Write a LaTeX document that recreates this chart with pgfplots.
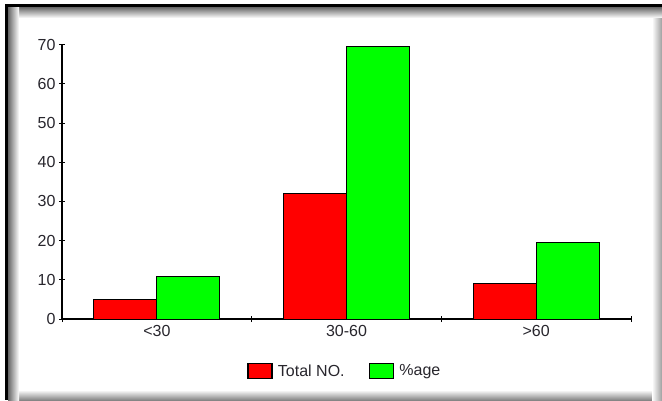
\documentclass[border=0pt]{standalone}
\usepackage{fontspec}
\setmainfont{Liberation Sans}
\usepackage{pgfplots}
\pgfplotsset{compat=1.18}

\definecolor{barred}{RGB}{255,0,0}
\definecolor{bargreen}{RGB}{0,255,0}
\definecolor{labelgray}{RGB}{40,38,45}

\begin{document}
\begin{tikzpicture}
\useasboundingbox (0pt,0pt) rectangle (662pt,400pt);
\fill[white] (0pt,0pt) rectangle (662pt,400pt);
% inner shadow of the panel
\shade[top color=white, bottom color=black!48] (8pt,0pt) rectangle (662pt,10pt);
\shade[left color=white, right color=black!38] (652pt,0pt) rectangle (662pt,393pt);
\shade[top color=black!60, bottom color=white] (8pt,382pt) rectangle (662pt,393pt);
\shade[left color=black!60, right color=white] (8pt,0pt) rectangle (19pt,393pt);
% panel border
\fill[black] (5pt,0pt) rectangle (8pt,396pt);
\fill[black] (5pt,393pt) rectangle (662pt,396pt);

\begin{axis}[
  at={(62pt,81pt)}, anchor=south west,
  scale only axis, width=569pt, height=274.3pt,
  xmin=0, xmax=3, ymin=0, ymax=70,
  axis lines=left,
  axis line style={-, line width=1.2pt, black},
  ybar=0pt, bar width=63pt,
  ytick={0,10,...,70},
  xtick={0,1,2,3}, xticklabels={},
  extra x ticks={0.5,1.5,2.5},
  extra x tick labels={<30,30-60,>60},
  extra x tick style={major tick length=0pt},
  xticklabel style={yshift=-3pt},
  tick align=center, major tick length=6pt,
  tick style={black, line width=1pt},
  tick label style={font=\fontsize{16}{19}\selectfont, text=labelgray},
  /pgf/number format/assume math mode=true,
  legend style={at={(0.497,-0.19)}, anchor=center, draw=none, fill=none,
    legend columns=2, font=\fontsize{16}{19}\selectfont, text=labelgray,
    /tikz/every even column/.append style={column sep=22pt}},
  legend image code/.code={\draw[#1,draw=black,line width=1.5pt] (0pt,-7.5pt) rectangle (24pt,7.5pt);
    \path[draw=none,fill=none] (0pt,0pt) -- (28pt,0pt);},
]
\addplot[fill=barred, draw=black, line width=1pt] coordinates {(0.5,5) (1.5,32) (2.5,9)};
\addplot[fill=bargreen, draw=black, line width=1pt] coordinates {(0.5,10.87) (1.5,69.57) (2.5,19.57)};
\legend{Total NO., \%age}
\end{axis}
\end{tikzpicture}
\end{document}
